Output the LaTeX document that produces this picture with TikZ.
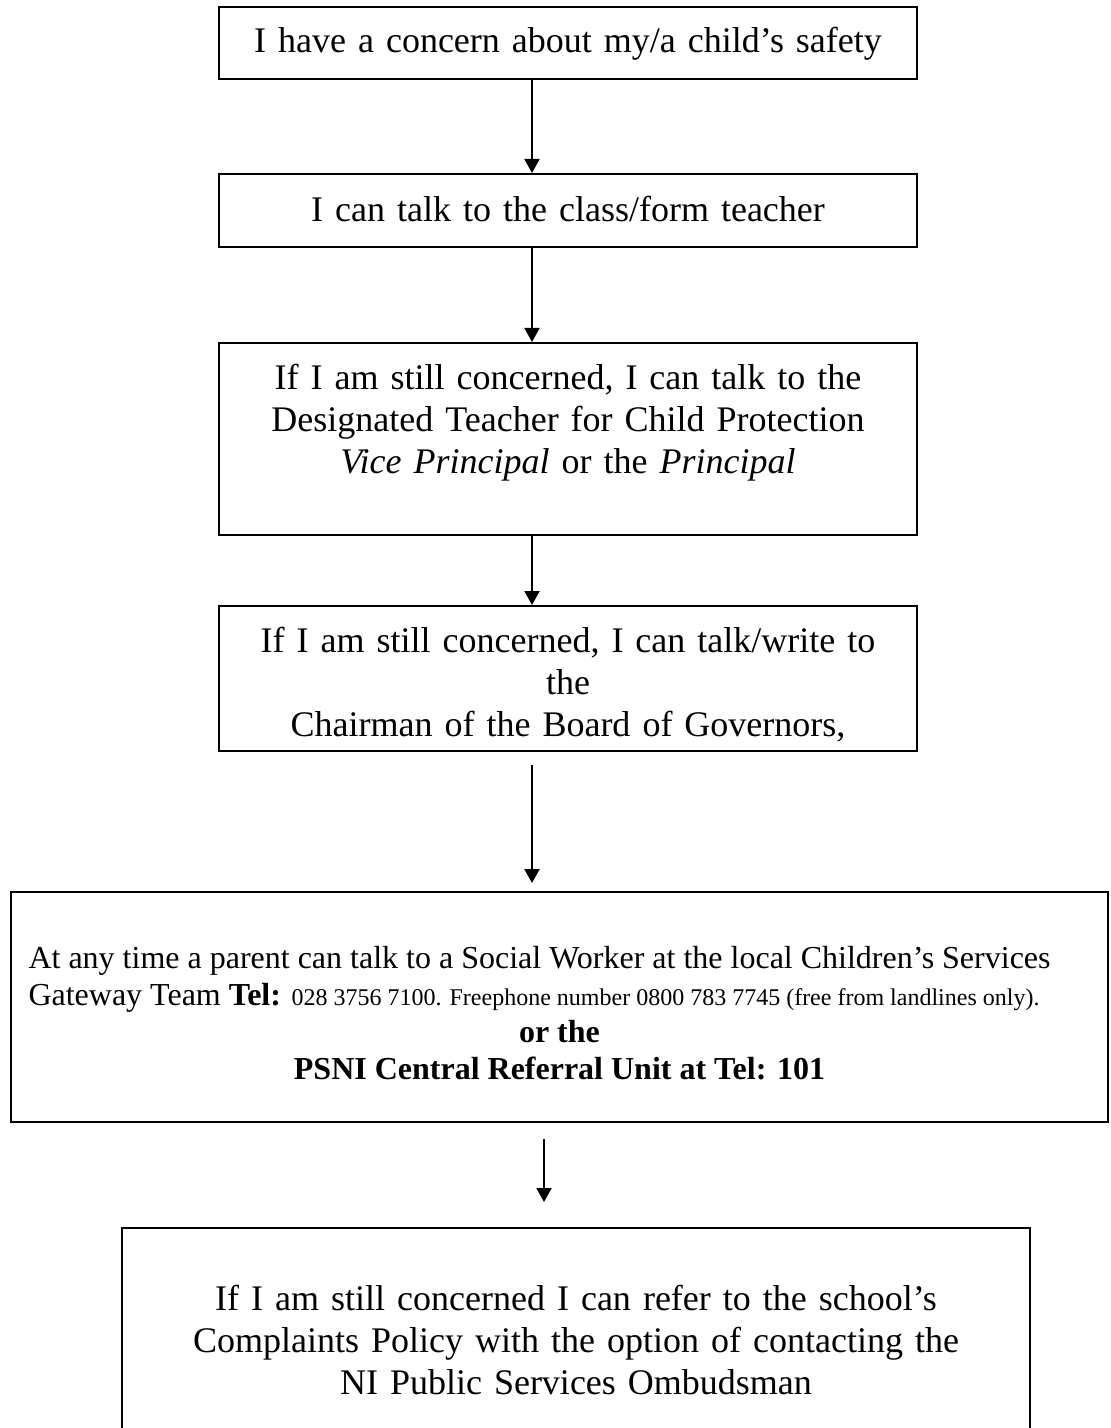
\documentclass[tikz,border=0pt]{standalone}
\usepackage{fontspec}
\setmainfont{Liberation Serif}
\usetikzlibrary{arrows.meta}

\tikzset{
  stage/.style={draw, line width=1pt, inner sep=0pt, anchor=base,
    align=center, font=\fontsize{18}{21}\selectfont},
  flow/.style={line width=1pt, -{Triangle[length=7pt,width=7.5pt]}}
}

\begin{document}
\begin{tikzpicture}[x=0.5pt, y=-0.5pt]

    \clip (0,0) rectangle (1110,1428);

    % boxes, placed at the baseline of their first line
    \node[stage, text width=349pt, text height=23pt, text depth=13pt] (concern) at (568,53)
        {I have a concern about my/a child’s safety};
    \node[stage, text width=349pt, text height=24pt, text depth=12.5pt] (teacher) at (568,222)
        {I can talk to the class/form teacher};
    \node[stage, text width=349pt, text height=23pt, text depth=73pt] (designated) at (568,389)
        {If I am still concerned, I can talk to the\\
         Designated Teacher for Child Protection\\
         \textit{Vice Principal} or the \textit{Principal}};
    \node[stage, text width=349pt, text height=23pt, text depth=49.5pt] (chairman) at (568,652)
        {If I am still concerned, I can talk/write to\\
         the\\
         Chairman of the Board of Governors,};
    \node[stage, align=none, text width=531pt, inner xsep=8.75pt, text height=38pt, text depth=77pt,
          font=\fontsize{16}{18.5}\selectfont] (gateway) at (559.5,968)
        {{\raggedright At any time a parent can talk to a Social Worker at the local Children’s Services\\
          Gateway Team \textbf{Tel:} {\fontsize{12}{18.5}\selectfont 028 3756 7100. Freephone number 0800 783 7745 (free from landlines only).}\par}
         {\centering\bfseries or the\\
          PSNI Central Referral Unit at Tel: 101\par}};
    \node[stage, text width=454pt, text height=41pt, text depth=70pt] (ombudsman) at (576,1310)
        {If I am still concerned I can refer to the school’s\\
         Complaints Policy with the option of contacting the\\
         NI Public Services Ombudsman};

    % arrows
    \coordinate (axis) at (532,0);
    \coordinate (axislow) at (544,0);
    \draw[flow] (concern.south -| axis) -- (teacher.north -| axis);
    \draw[flow] (teacher.south -| axis) -- (designated.north -| axis);
    \draw[flow] (designated.south -| axis) -- (chairman.north -| axis);
    \draw[flow, shorten <=6.5pt, shorten >=4pt] (chairman.south -| axis) -- (gateway.north -| axis);
    \draw[flow, shorten <=8pt, shorten >=12.5pt] (gateway.south -| axislow) -- (ombudsman.north -| axislow);

\end{tikzpicture}
\end{document}
